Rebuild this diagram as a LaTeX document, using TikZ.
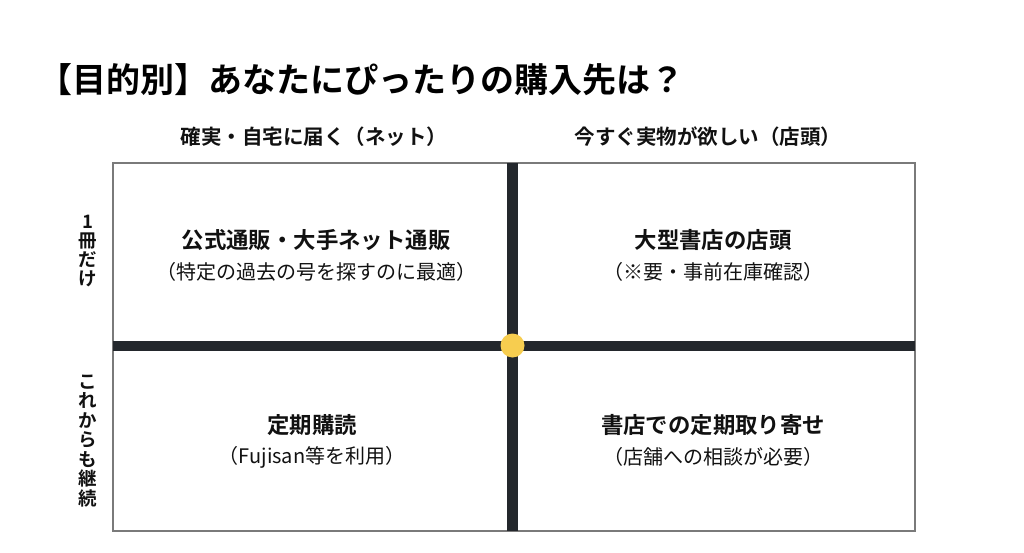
\documentclass[tikz,border=0pt]{standalone}
\usepackage{fontspec}
\setmainfont{Noto Sans CJK JP}
\newfontfamily\jpfont{Noto Sans CJK JP}
\newfontfamily\jpbold{Noto Sans CJK JP Bold}
\definecolor{bar}{HTML}{23272C}
\definecolor{dot}{HTML}{F7CD4F}
\definecolor{frame}{HTML}{7A7A7A}
\definecolor{ink}{HTML}{111111}
\tikzset{
  qtitle/.style={font=\jpbold\fontsize{22.4}{25}\selectfont, text=ink, inner sep=0pt},
  qsub/.style={font=\jpfont\fontsize{20}{23}\selectfont, text=ink, inner sep=0pt},
  colhead/.style={font=\jpbold\fontsize{20.5}{23}\selectfont, text=ink, inner sep=0pt},
  rowhead/.style={font=\jpbold\fontsize{18.5}{22}\selectfont, text=ink, inner sep=0pt, align=center},
  quadbar/.style={fill=bar, draw=none},
}
\begin{document}
\begin{tikzpicture}[x=1pt,y=-1pt]
\useasboundingbox (0,0) rectangle (1024,552);
% frame
\draw[frame, line width=1.5pt] (113,163) rectangle (915,531);
% axes
\fill[quadbar] (113,340.5) rectangle (915,351);
\fill[quadbar] (507,163) rectangle (518,531);
\node[circle, fill=dot, minimum size=24pt, inner sep=0pt] (center) at (512.5,345.5) {};
% title
\node[anchor=west, inner sep=0pt, font=\jpbold\fontsize{34}{38}\selectfont, text=black] (title) at (38,80) {【目的別】あなたにぴったりの購入先は？};
% column headers
\node[colhead] (c1) at (314,137) {確実・自宅に届く（ネット）};
\node[colhead] (c2) at (708,137) {今すぐ実物が欲しい（店頭）};
% row headers
\node[rowhead] (r1) at (88,251) {1\\[-3pt]冊\\[-3pt]だ\\[-3pt]け};
\node[rowhead] (r2) at (88,441) {こ\\[-2.5pt]れ\\[-2.5pt]か\\[-2.5pt]ら\\[-2.5pt]も\\[-2.5pt]継\\[-2.5pt]続};
% quadrants
\node[qtitle] (q1t) at (316,240) {公式通販・大手ネット通販};
\node[qsub] (q1s) at (316,272) {（特定の過去の号を探すのに最適）};
\node[qtitle] (q2t) at (713,240) {大型書店の店頭};
\node[qsub] (q2s) at (713,272) {（※要・事前在庫確認）};
\node[qtitle] (q3t) at (312,425) {定期購読};
\node[qsub] (q3s) at (312,457) {（Fujisan等を利用）};
\node[qtitle] (q4t) at (713,425) {書店での定期取り寄せ};
\node[qsub] (q4s) at (713,457) {（店舗への相談が必要）};
\end{tikzpicture}
\end{document}
